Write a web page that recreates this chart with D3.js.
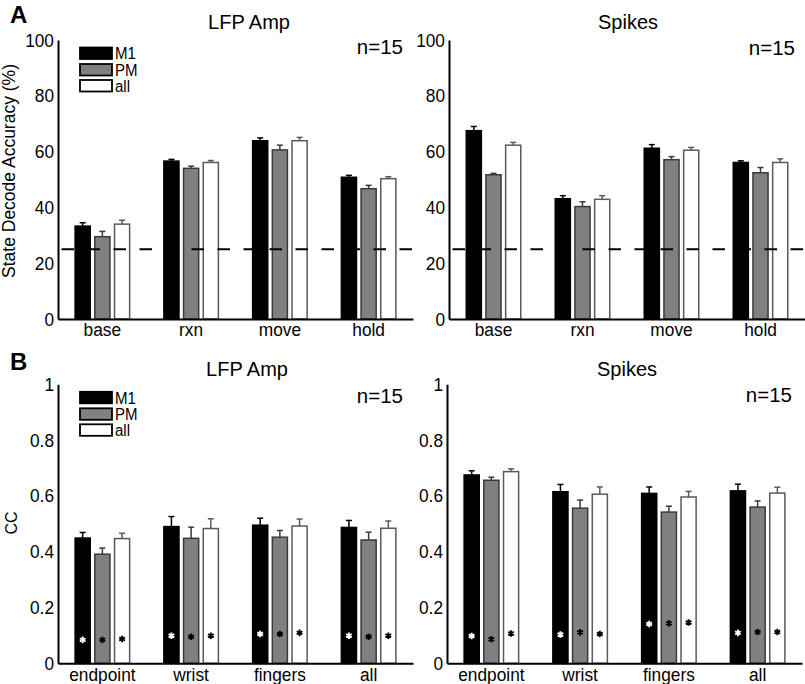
<!DOCTYPE html>
<html><head><meta charset="utf-8">
<script src="https://cdn.jsdelivr.net/npm/d3@7"></script>
<style>body{margin:0;background:#fff} svg{display:block} text{font-family:"Liberation Sans",Arial,Helvetica,sans-serif;fill:#000}
text.st{transform-box:fill-box;transform-origin:50% 50%;transform:scaleY(1.08)}</style>
</head><body>
<svg id="c" width="805" height="684"></svg>
<script>
// ---------- data ----------
const stateCats = ["base", "rxn", "move", "hold"];
const kinCats = ["endpoint", "wrist", "fingers", "all"];
const seriesNames = ["M1", "PM", "all"];
const stateTicks = [0, 20, 40, 60, 80, 100];
const ccTicks = [0, 0.2, 0.4, 0.6, 0.8, 1];
const chanceLevel = 25;

// A: LFP Amp state decode accuracy (%)
const lfpStateM1 = [33.3, 56.6, 63.9, 50.8];
const lfpStatePM = [29.5, 54.0, 60.6, 46.7];
const lfpStateAll = [34.0, 56.1, 63.9, 50.3];
const lfpStateErrM1 = [1.2, 0.6, 1.0, 0.7];
const lfpStateErrPM = [1.9, 0.8, 1.7, 1.2];
const lfpStateErrAll = [1.4, 0.7, 1.2, 0.7];

// A: Spikes state decode accuracy (%)
const spkStateM1 = [67.5, 43.1, 61.2, 56.1];
const spkStatePM = [51.7, 40.3, 57.1, 52.4];
const spkStateAll = [62.3, 42.9, 60.5, 56.1];
const spkStateErrM1 = [1.5, 1.1, 1.3, 0.6];
const spkStateErrPM = [0.5, 1.7, 1.1, 1.9];
const spkStateErrAll = [1.0, 1.3, 1.0, 1.3];

// B: LFP Amp CC
const lfpCcM1 = [0.449, 0.490, 0.495, 0.487];
const lfpCcPM = [0.391, 0.448, 0.452, 0.442];
const lfpCcAll = [0.447, 0.483, 0.492, 0.484];
const lfpCcErrM1 = [0.020, 0.036, 0.025, 0.025];
const lfpCcErrPM = [0.022, 0.040, 0.024, 0.028];
const lfpCcErrAll = [0.019, 0.035, 0.025, 0.026];
const lfpStarM1 = [0.084, 0.099, 0.105, 0.099];
const lfpStarPM = [0.084, 0.095, 0.105, 0.095];
const lfpStarAll = [0.087, 0.099, 0.109, 0.099];

// B: Spikes CC
const spkCcM1 = [0.675, 0.615, 0.609, 0.618];
const spkCcPM = [0.656, 0.556, 0.542, 0.560];
const spkCcAll = [0.687, 0.606, 0.596, 0.610];
const spkCcErrM1 = [0.015, 0.026, 0.023, 0.024];
const spkCcErrPM = [0.011, 0.029, 0.021, 0.022];
const spkCcErrAll = [0.010, 0.026, 0.020, 0.021];
const spkStarM1 = [0.098, 0.103, 0.141, 0.109];
const spkStarPM = [0.086, 0.111, 0.143, 0.112];
const spkStarAll = [0.107, 0.105, 0.146, 0.112];

// ---------- styles ----------
const fills = {M1: "#000000", PM: "#808080", all: "#ffffff"};
const strokes = {M1: "#000000", PM: "#3a3a3a", all: "#5a5a5a"};
const starColors = {M1: "#ffffff", PM: "#000000", all: "#000000"};

const svg = d3.select("#c");

const panels = [
  {cats: stateCats, means: [lfpStateM1, lfpStatePM, lfpStateAll], errs: [lfpStateErrM1, lfpStateErrPM, lfpStateErrAll],
   ticks: stateTicks, dom: [0, 100], xr: [58, 413], yr: [319, 40], title: "LFP Amp", tx: 249, ty: 29, nx: 403, ny: 54,
   dashed: true, legend: true},
  {cats: stateCats, means: [spkStateM1, spkStatePM, spkStateAll], errs: [spkStateErrM1, spkStateErrPM, spkStateErrAll],
   ticks: stateTicks, dom: [0, 100], xr: [449, 805], yr: [319, 40], title: "Spikes", tx: 628, ty: 29, nx: 795, ny: 55,
   dashed: true, legend: false},
  {cats: kinCats, means: [lfpCcM1, lfpCcPM, lfpCcAll], errs: [lfpCcErrM1, lfpCcErrPM, lfpCcErrAll], stars: [lfpStarM1, lfpStarPM, lfpStarAll],
   ticks: ccTicks, dom: [0, 1], xr: [58, 413], yr: [663.3, 384.3], title: "LFP Amp", tx: 247, ty: 376, nx: 403, ny: 403,
   dashed: false, legend: true},
  {cats: kinCats, means: [spkCcM1, spkCcPM, spkCcAll], errs: [spkCcErrM1, spkCcErrPM, spkCcErrAll], stars: [spkStarM1, spkStarPM, spkStarAll],
   ticks: ccTicks, dom: [0, 1], xr: [447, 802], yr: [663.3, 384.3], title: "Spikes", tx: 627, ty: 376, nx: 792, ny: 402,
   dashed: false, legend: false}
];

panels.forEach(p => {
  const g = svg.append("g");
  const x0 = d3.scaleBand().domain(p.cats).range(p.xr);
  const x1 = d3.scaleBand().domain(seriesNames).range([-28, 28]).paddingInner(0.157);
  const y = d3.scaleLinear().domain(p.dom).range(p.yr);
  const bw = x1.bandwidth();

  const rows = [];
  p.cats.forEach((c, i) => seriesNames.forEach((s, j) => {
    rows.push({c, s, v: p.means[j][i], e: p.errs[j][i], st: p.stars ? p.stars[j][i] : null});
  }));
  const cx = d => x0(d.c) + x0.bandwidth() / 2 + x1(d.s);

  // error bars (upper part)
  const eb = g.append("g");
  rows.forEach(d => {
    const xm = cx(d) + bw / 2;
    eb.append("line").attr("x1", xm).attr("x2", xm).attr("y1", y(d.v)).attr("y2", y(d.v + d.e))
      .attr("stroke", strokes[d.s]).attr("stroke-width", 1.5);
    eb.append("line").attr("x1", xm - 3).attr("x2", xm + 3).attr("y1", y(d.v + d.e)).attr("y2", y(d.v + d.e))
      .attr("stroke", strokes[d.s]).attr("stroke-width", 1.5);
  });

  // bars
  g.append("g").selectAll("rect").data(rows).join("rect")
    .attr("x", d => cx(d) + 0.75)
    .attr("width", bw - 1.5)
    .attr("y", d => y(d.v))
    .attr("height", d => y(p.dom[0]) - y(d.v))
    .attr("fill", d => fills[d.s])
    .attr("stroke", d => strokes[d.s])
    .attr("stroke-width", 1.5);

  // asterisks
  if (p.stars) {
    const sym = d3.symbol(d3.symbolAsterisk, 30);
    g.append("g").selectAll("path").data(rows).join("path")
      .attr("transform", d => `translate(${cx(d) + bw / 2},${y(d.st)})`)
      .attr("d", sym)
      .attr("fill", "none")
      .attr("stroke", d => starColors[d.s])
      .attr("stroke-width", 1.9);
  }

  // chance line
  if (p.dashed) {
    g.append("line").attr("x1", p.xr[0] + 3.5).attr("x2", p.xr[1]).attr("y1", y(chanceLevel)).attr("y2", y(chanceLevel))
      .attr("stroke", "#000").attr("stroke-width", 2).attr("stroke-dasharray", "12.5,13.5");
  }

  // axes
  const ya = g.append("g").attr("transform", `translate(${p.xr[0]},0)`)
    .call(d3.axisLeft(y).tickValues(p.ticks).tickSize(0).tickSizeOuter(0).tickPadding(4).tickFormat(d => String(d)));
  ya.select(".domain").attr("stroke", "#000").attr("stroke-width", 2);
  ya.selectAll("text").attr("font-size", 17.3).attr("font-family", null).attr("class", "st");

  const xa = g.append("g").attr("transform", `translate(0,${p.yr[0]})`)
    .call(d3.axisBottom(x0).tickSize(0).tickSizeOuter(0).tickPadding(4.5));
  xa.select(".domain").attr("stroke", "#000").attr("stroke-width", 2);
  xa.selectAll("text").attr("font-size", 17.3).attr("font-family", null).attr("class", "st");

  // title & n
  g.append("text").attr("x", p.tx).attr("y", p.ty).attr("text-anchor", "middle").attr("font-size", 20).text(p.title);
  g.append("text").attr("x", p.nx).attr("y", p.ny).attr("text-anchor", "end").attr("font-size", 20.5).text("n=15");

  // legend
  if (p.legend) {
    const top = p.yr[1];
    const offs = [7.5, 24, 40];
    seriesNames.forEach((s, j) => {
      g.append("rect").attr("x", 80).attr("y", top + offs[j]).attr("width", 32).attr("height", 11.5)
        .attr("fill", fills[s]).attr("stroke", "#000").attr("stroke-width", 1.8);
      g.append("text").attr("x", 115).attr("y", top + offs[j] + 11.5).attr("font-size", 15).attr("class", "st").text(s);
    });
  }
});

// panel letters & y labels
svg.append("text").attr("x", 10).attr("y", 23).attr("font-size", 24).attr("font-weight", "bold").text("A");
svg.append("text").attr("x", 10).attr("y", 370).attr("font-size", 24).attr("font-weight", "bold").text("B");
svg.append("text").attr("transform", "translate(14.5,171) rotate(-90)").attr("text-anchor", "middle")
  .attr("font-size", 17.5).text("State Decode Accuracy (%)");
svg.append("text").attr("transform", "translate(17,523) rotate(-90)").attr("text-anchor", "middle")
  .attr("font-size", 16).text("CC");
</script>
</body></html>
